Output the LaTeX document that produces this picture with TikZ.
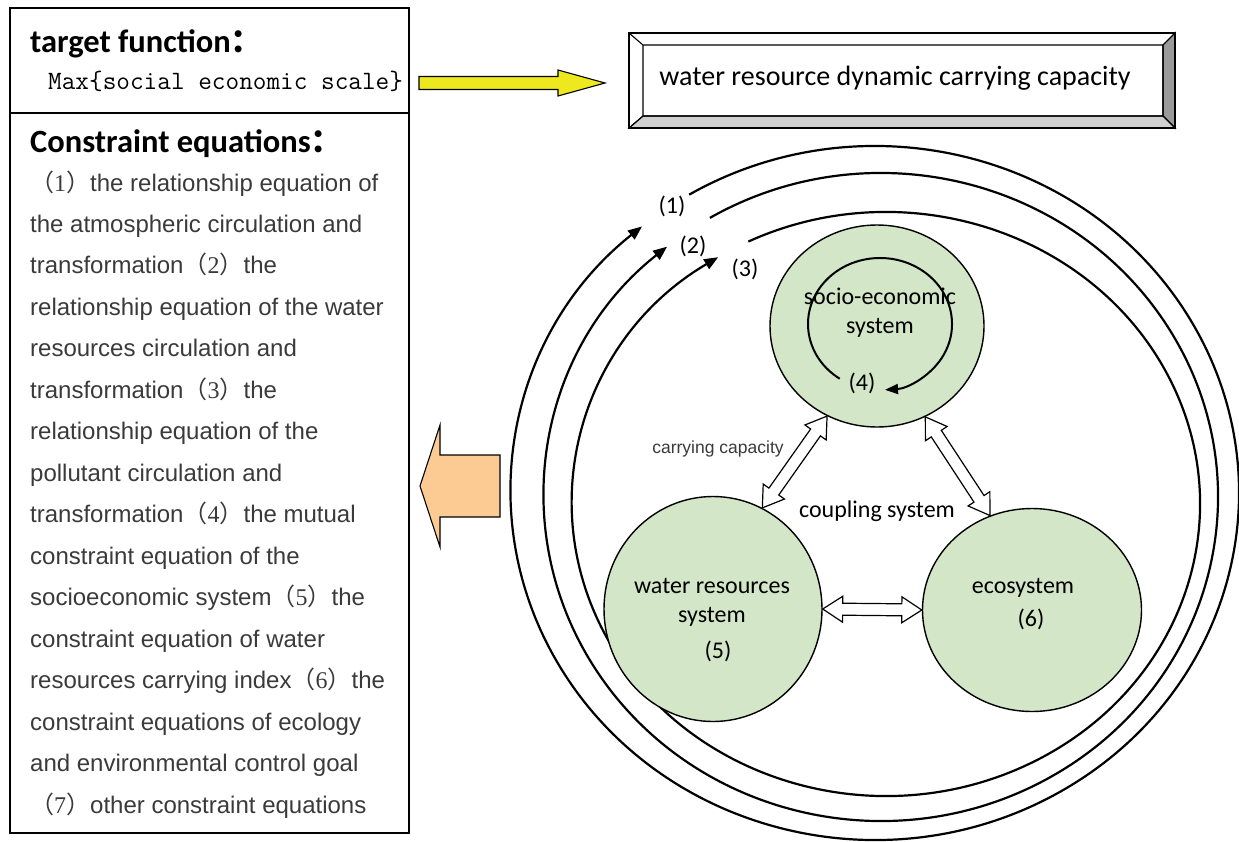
\documentclass[tikz,border=0pt]{standalone}
\usepackage{fontspec}
\setmainfont{Carlito}
\newfontfamily\arialf{Liberation Sans}
\newfontfamily\seriff{Liberation Serif}
\newfontfamily\cjkf{Noto Sans CJK SC}
\usetikzlibrary{shapes.geometric,arrows.meta,calc}
\definecolor{circfill}{HTML}{D3E6C8}
\definecolor{txtgray}{HTML}{3A3A3A}
\definecolor{yel}{HTML}{EEE81E}
\definecolor{org}{HTML}{FCCB93}
\definecolor{bevR}{HTML}{9A9A9A}
\definecolor{bevB}{HTML}{CFCFCF}
\newcommand\pn[1]{{\cjkf （}{\seriff #1}{\cjkf ）}}
\newcommand\dbarrow[2]{%
\draw[dbl] (#1) -- ($(#1)!20pt!(#2)!13pt!90:(#2)$) -- ($(#1)!20pt!(#2)!6pt!90:(#2)$)
 -- ($(#2)!20pt!(#1)!6pt!-90:(#1)$) -- ($(#2)!20pt!(#1)!13pt!-90:(#1)$) -- (#2)
 -- ($(#2)!20pt!(#1)!13pt!90:(#1)$) -- ($(#2)!20pt!(#1)!6pt!90:(#1)$)
 -- ($(#1)!20pt!(#2)!6pt!-90:(#2)$) -- ($(#1)!20pt!(#2)!13pt!-90:(#2)$) -- cycle;}
\newcommand\sgarrow[6]{%
\draw[#6] ($(#1)!#5!90:(#2)$) -- ($(#2)!#3!(#1)!#5!-90:(#1)$) -- ($(#2)!#3!(#1)!#4!-90:(#1)$)
 -- (#2) -- ($(#2)!#3!(#1)!#4!90:(#1)$) -- ($(#2)!#3!(#1)!#5!90:(#1)$)
 -- ($(#1)!#5!-90:(#2)$) -- cycle;}
\begin{document}
\begin{tikzpicture}[x=1pt,y=-1pt,
  sys/.style={ellipse, draw, line width=1.4pt, fill=circfill, inner sep=0pt},
  lbl/.style={font=\fontsize{24}{28}\selectfont, inner sep=0pt},
  ring/.style={line width=2.2pt, -{Triangle[length=14pt,width=11pt]}},
  dbl/.style={draw, fill=white, line width=1.2pt, line join=miter},
  panel/.style={draw, line width=1.3pt, inner sep=0pt, outer sep=0pt},
  body/.style={anchor=base west, inner sep=0pt, text=txtgray, font=\arialf\fontsize{24}{28}\selectfont},
  yarrow/.style={fill=yel, draw, line width=1.1pt, line join=miter},
  oarrow/.style={fill=org, draw, line width=1.1pt, line join=miter}]
\useasboundingbox (0,0) rectangle (1239,841);

% left panel
\node[panel, minimum width=399pt, minimum height=105pt, anchor=north west] (tbox) at (10,8) {};
\node[panel, minimum width=399pt, minimum height=720pt, anchor=north west] (cbox) at (10,113) {};
\node[anchor=base west, inner sep=0pt, font=\bfseries\fontsize{32.5}{36}\selectfont] (tf) at (30,52) {target function{\cjkf ：}};
\node[anchor=base west, inner sep=0pt, font=\ttfamily\fontsize{26.5}{30}\selectfont] (mx) at (48,89) {Max\{social economic scale\}};
\node[anchor=base west, inner sep=0pt, font=\bfseries\fontsize{32.5}{36}\selectfont] (ce) at (30,152) {Constraint equations{\cjkf ：}};
\foreach \t [count=\i] in {
 \pn{1}the relationship equation of,
 the atmospheric circulation and,
 transformation\pn{2}the,
 relationship equation of the water,
 resources circulation and,
 transformation\pn{3}the,
 relationship equation of the,
 pollutant circulation and,
 transformation\pn{4}the mutual,
 constraint equation of the,
 socioeconomic system\pn{5}the,
 constraint equation of water,
 resources carrying index\pn{6}the,
 constraint equations of ecology,
 and environmental control goal,
 \pn{7}other constraint equations}
 \node[body] (cl\i) at (30,{191+(\i-1)*41.47}) {\t};

% yellow arrow
\coordinate (ya) at (419,83);
\coordinate (yb) at (605,83);
\sgarrow{ya}{yb}{47pt}{13pt}{6.5pt}{yarrow}

% orange arrow
\coordinate (oa) at (500,486);
\coordinate (ob) at (420,486);
\sgarrow{oa}{ob}{20pt}{61pt}{31pt}{oarrow}

% capacity box (bevel)
\node[draw, line width=1.3pt, fill=white, minimum width=546pt, minimum height=95pt, inner sep=0pt, outer sep=0pt] (cap) at (902,80.5) {};
\coordinate (iNW) at ($(cap.north west)+(14,12)$);
\coordinate (iNE) at ($(cap.north east)+(-12,12)$);
\coordinate (iSW) at ($(cap.south west)+(14,-12)$);
\coordinate (iSE) at ($(cap.south east)+(-12,-12)$);
\filldraw[fill=bevR, line width=1.1pt] (cap.north east) -- (cap.south east) -- (iSE) -- (iNE) -- cycle;
\filldraw[fill=bevB, line width=1.1pt] (cap.south west) -- (cap.south east) -- (iSE) -- (iSW) -- cycle;
\draw[line width=1.1pt] (cap.north west) -- (iNW) (cap.south west) -- (iSW) (iNW) rectangle (iSE);
\draw[line width=1.3pt] (cap.north west) rectangle (cap.south east);
\node[anchor=base, inner sep=0pt, font=\fontsize{28}{32}\selectfont] (captxt) at (895,85) {water resource dynamic carrying capacity};

% rings
\draw[ring] (875,493) ++(-120.7:364 and 347) arc[start angle=-120.7, end angle=230.2, x radius=364, y radius=347];
\draw[ring] (881,497) ++(-120.5:337 and 324) arc[start angle=-120.5, end angle=230.6, x radius=337, y radius=324];
\draw[ring] (886,504) ++(-116:314 and 292) arc[start angle=-116, end angle=237.7, x radius=314, y radius=292];
\node[lbl] (l1) at (672,206) {(1)};
\node[lbl] (l2) at (693,246) {(2)};
\node[lbl] (l3) at (745,269) {(3)};

% systems
\node[sys, minimum width=214pt, minimum height=202pt] (socio) at (877,326) {};
\node[sys, minimum width=218pt, minimum height=225pt] (water) at (713,609) {};
\node[sys, minimum width=219pt, minimum height=203pt] (eco) at (1032,610) {};

\draw[line width=2pt, -{Triangle[length=13pt,width=10pt]}] (880,324) ++(124:72 and 66) arc[start angle=124, end angle=446, x radius=72, y radius=66];

\node[lbl, anchor=base] (s1) at (880,304) {socio-economic};
\node[lbl, anchor=base] (s2) at (880,333) {system};
\node[lbl] (l4) at (862,383) {(4)};
\node[lbl, anchor=base] (w1) at (712,593) {water resources};
\node[lbl, anchor=base] (w2) at (712,622) {system};
\node[lbl] (l5) at (718,651) {(5)};
\node[lbl, anchor=base] (e1) at (1023,593) {ecosystem};
\node[lbl] (l6) at (1031,619) {(6)};
\node[lbl, anchor=base] (cs) at (877,517) {coupling system};
\node[anchor=base, inner sep=0pt, text=txtgray, font=\arialf\fontsize{17.5}{21}\selectfont] (cc) at (718,453) {carrying capacity};

% coupling arrows
\dbarrow{socio.241}{water.64}
\dbarrow{socio.298}{eco.114}
\dbarrow{water.0}{eco.180}
\end{tikzpicture}
\end{document}
